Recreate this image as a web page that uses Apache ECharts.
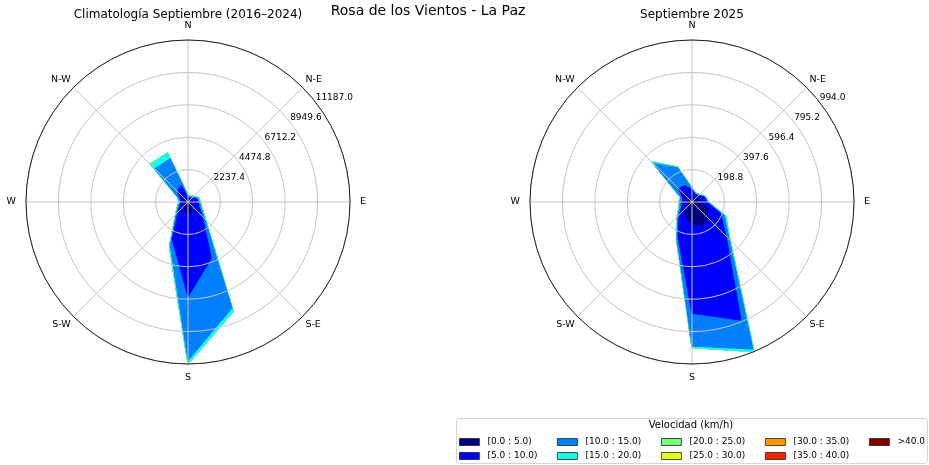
<!DOCTYPE html>
<html>
<head>
<meta charset="utf-8">
<title>Rosa de los Vientos - La Paz</title>
<script src="https://cdn.jsdelivr.net/npm/echarts@6/dist/echarts.min.js"></script>
</head>
<body style="margin:0;background:#fff">
<div id="main" style="width:929px;height:465px;"></div>
<script>
// 16 rumbos, N arriba y en sentido horario
var dirAngles = [0, 22.5, 45, 67.5, 90, 112.5, 135, 157.5, 180, 202.5, 225, 247.5, 270, 292.5, 315, 337.5];
var compassLabels = ['N', 'N-E', 'E', 'S-E', 'S', 'S-W', 'W', 'N-W'];
var speedBins = ['[0.0 : 5.0)', '[5.0 : 10.0)', '[10.0 : 15.0)', '[15.0 : 20.0)', '[20.0 : 25.0)',
  '[25.0 : 30.0)', '[30.0 : 35.0)', '[35.0 : 40.0)', '>40.0'];
var binColors = ['#000080', '#0000ff', '#0080ff', '#15ffe2', '#7bff7b', '#e2ff15', '#ff9700', '#ff2100', '#800000'];

// Climatologia septiembre 2016-2024, cuentas por rumbo (N ... NNW)
var clima0_5   = [100, 100, 120, 150, 200, 250, 350, 620, 900, 690, 450, 280, 210, 210, 280, 280];
var clima5_10  = [180, 180, 260, 475, 495, 580, 1030, 3590, 5640, 2140, 515, 340, 275, 345, 755, 965];
var clima10_15 = [140, 100, 100, 100, 100, 140, 240, 3730, 4405, 380, 170, 100, 70, 140, 2210, 2000];
var clima15_20 = [70, 70, 70, 70, 70, 70, 100, 250, 242, 140, 70, 70, 70, 70, 450, 435];

// Septiembre 2025
var sep0_5   = [15, 15, 25, 45, 60, 105, 135, 155, 135, 100, 60, 35, 30, 30, 30, 25];
var sep5_10  = [60, 35, 30, 35, 30, 85, 160, 630, 548, 127, 50, 32, 31, 31, 87, 83];
var sep10_15 = [8, 6, 6, 6, 8, 25, 27, 192, 201, 15, 13, 13, 13, 13, 217, 119];
var sep15_20 = [3, 3, 3, 3, 3, 9, 9, 17, 9, 7, 6, 6, 6, 6, 16, 6];

var climaTable = [clima0_5, clima5_10, clima10_15, clima15_20];
var sepTable = [sep0_5, sep5_10, sep10_15, sep15_20];

var font = 'DejaVu Sans';
var gridColor = '#c4c4c4';

function cumulative(table) {
  var out = [];
  var run = dirAngles.map(function () { return 0; });
  speedBins.forEach(function (name, i) {
    var row = table[i] || [];
    run = run.map(function (v, d) { return v + (row[d] || 0); });
    out.push(run.slice());
  });
  return out;
}

function roseSeries(table, polarIndex) {
  var cum = cumulative(table);
  return speedBins.map(function (name, i) {
    var pts = dirAngles.map(function (a, d) { return [cum[i][d], a]; });
    pts.push([cum[i][0], 360]);
    return {
      name: name,
      type: 'line',
      coordinateSystem: 'polar',
      polarIndex: polarIndex,
      data: pts,
      symbol: 'none',
      silent: true,
      z: 20 - i,
      lineStyle: { color: binColors[i], width: 1 },
      itemStyle: { color: binColors[i] },
      areaStyle: { color: binColors[i], opacity: 1 }
    };
  });
}

function rmaxOf(table) {
  var cum = cumulative(table);
  return Math.max.apply(null, cum[cum.length - 1]);
}

var climaMax = rmaxOf(climaTable);
var sepMax = rmaxOf(sepTable);

function gridAngle() {
  return {
    type: 'value', min: 0, max: 360, interval: 45, startAngle: 90, clockwise: true, z: 30,
    axisLine: { lineStyle: { color: '#222', width: 1 } },
    axisTick: { show: false },
    splitLine: { lineStyle: { color: gridColor, width: 1 } },
    axisLabel: {
      margin: 4, fontSize: 9.5, color: '#000',
      formatter: function (v) {
        var k = Math.round(v / 45) % 8;
        return (k % 2 ? '{d|' : '{c|') + compassLabels[k] + '}';
      },
      rich: {
        c: { fontSize: 9.5, color: '#000', fontFamily: font, padding: [5, 6, 5, 6] },
        d: { fontSize: 9.5, color: '#000', fontFamily: font }
      }
    }
  };
}
function gridRadius(rmax) {
  return {
    type: 'value', min: 0, max: rmax, interval: rmax / 5, z: 30,
    axisLine: { show: false }, axisTick: { show: false }, axisLabel: { show: false },
    splitLine: { lineStyle: { color: gridColor, width: 1 } }
  };
}
function labelAngle() {
  return { type: 'value', min: 0, max: 360, startAngle: 38, show: false };
}
function labelRadius(rmax) {
  return {
    type: 'value', min: 0, max: rmax, interval: rmax / 5, z: 31,
    axisLine: { show: false }, axisTick: { show: false }, splitLine: { show: false },
    axisLabel: {
      showMinLabel: false, margin: 0, align: 'left', verticalAlign: 'bottom',
      fontSize: 9, color: '#000',
      formatter: function (v) { return v.toFixed(1); }
    }
  };
}

var legendCols = [[0, 1], [2, 3], [4, 5], [6, 7], [8]];
var legendLeft = [459, 557, 661, 765, 869];

var chart = echarts.init(document.getElementById('main'), null, { renderer: 'canvas' });
var option = {
  animation: false,
  backgroundColor: '#fff',
  textStyle: { fontFamily: font },
  title: [
    { text: 'Rosa de los Vientos - La Paz', left: 428, top: 4, textAlign: 'center', padding: 0,
      textStyle: { fontSize: 14, fontWeight: 'normal', color: '#000', fontFamily: font } },
    { text: 'Climatología Septiembre (2016–2024)', left: 188, top: 9, textAlign: 'center', padding: 0,
      textStyle: { fontSize: 12, fontWeight: 'normal', color: '#000', fontFamily: font } },
    { text: 'Septiembre 2025', left: 692, top: 9, textAlign: 'center', padding: 0,
      textStyle: { fontSize: 12, fontWeight: 'normal', color: '#000', fontFamily: font } },
    { text: 'Velocidad (km/h)', left: 691, top: 420, textAlign: 'center', padding: 0,
      textStyle: { fontSize: 10, fontWeight: 'normal', color: '#000', fontFamily: font } }
  ],
  graphic: [{
    type: 'rect', left: 456, top: 418, z: 0,
    shape: { width: 471, height: 45, r: 3 },
    style: { fill: '#fff', stroke: '#d3d3d3', lineWidth: 1 }
  }],
  legend: legendCols.map(function (col, k) {
    return {
      orient: 'vertical', left: legendLeft[k], top: 436, padding: 0, itemGap: 2,
      itemWidth: 20, itemHeight: 7, icon: 'rect', selectedMode: false, z: 5,
      itemStyle: { borderColor: '#222', borderWidth: 0.8 },
      textStyle: { fontSize: 9, lineHeight: 12, color: '#000', padding: [0, 0, 0, 3] },
      data: col.map(function (i) { return speedBins[i]; })
    };
  }),
  polar: [
    { center: [188, 202], radius: 162 },
    { center: [188, 202], radius: 162 },
    { center: [692, 202], radius: 162 },
    { center: [692, 202], radius: 162 }
  ],
  angleAxis: [
    Object.assign(gridAngle(), { polarIndex: 0 }),
    Object.assign(labelAngle(), { polarIndex: 1 }),
    Object.assign(gridAngle(), { polarIndex: 2 }),
    Object.assign(labelAngle(), { polarIndex: 3 })
  ],
  radiusAxis: [
    Object.assign(gridRadius(climaMax), { polarIndex: 0 }),
    Object.assign(labelRadius(climaMax), { polarIndex: 1 }),
    Object.assign(gridRadius(sepMax), { polarIndex: 2 }),
    Object.assign(labelRadius(sepMax), { polarIndex: 3 })
  ],
  series: roseSeries(climaTable, 0).concat(roseSeries(sepTable, 2))
};
chart.setOption(option);
</script>
</body>
</html>
